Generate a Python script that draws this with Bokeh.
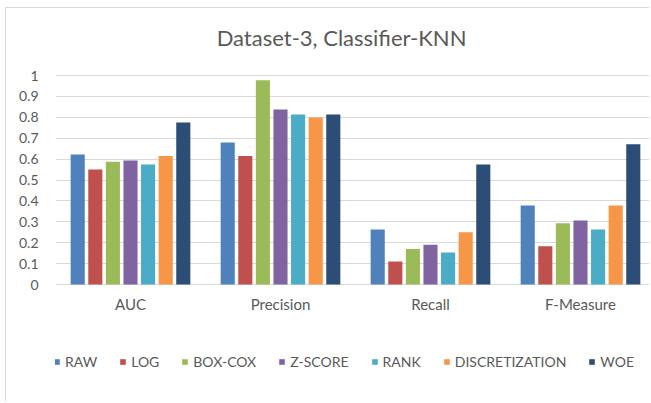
from bokeh.plotting import figure
from bokeh.models import Range1d, FixedTicker, Legend, LegendItem
from bokeh.core.properties import value
from bokeh.embed import file_html
from bokeh.resources import INLINE

title_text = "Dataset-3, Classifier-KNN"
categories = ["AUC", "Precision", "Recall", "F-Measure"]
series_names = ["RAW", "LOG", "BOX-COX", "Z-SCORE", "RANK", "DISCRETIZATION", "WOE"]

raw = [0.622, 0.679, 0.263, 0.378]
log_ = [0.550, 0.615, 0.110, 0.183]
box_cox = [0.587, 0.977, 0.170, 0.293]
z_score = [0.593, 0.837, 0.190, 0.306]
rank = [0.574, 0.813, 0.153, 0.263]
discretization = [0.615, 0.799, 0.250, 0.378]
woe = [0.775, 0.813, 0.574, 0.671]
series_values = [raw, log_, box_cox, z_score, rank, discretization, woe]

colors = ["#4F81BD", "#C0504D", "#9BBB59", "#8064A2", "#4BACC6", "#F79646", "#2C4D75"]

y_ticks = [0, 0.1, 0.2, 0.3, 0.4, 0.5, 0.6, 0.7, 0.8, 0.9, 1]
y_tick_labels = ["0", "0.1", "0.2", "0.3", "0.4", "0.5", "0.6", "0.7", "0.8", "0.9", "1"]

FONT = "Lato"
TXT = "#595959"
GRID = "#d9d9d9"

# figure placed at (6, 8); frame spans y=8..402 (394 px); value 1 at y=75, 0 at y=284 (209 px per unit)
y_top = 1 + 67 / 209
p = figure(width=644, height=394, output_backend="svg", toolbar_location=None,
           x_range=Range1d(0, 595 / 150), y_range=Range1d(y_top - 394 / 209, y_top),
           min_border_left=49, min_border_right=0, min_border_top=0, min_border_bottom=0)
p.outline_line_color = None
p.background_fill_color = "white"
p.border_fill_color = "white"
p.styles = {"margin-left": "5px", "margin-top": "7px",
            "border-left": "1px solid #d9d9d9", "border-top": "1px solid #d9d9d9"}

# chart title, placed above the value area
p.text(x=[1.907], y=[1.184], text=[title_text],
       text_font=value(FONT), text_font_size="22px", text_color=TXT,
       text_align="center", text_baseline="middle")

pitch = 0.1173
bar_w = 0.094
renderers = []
for j, (name, vals, col) in enumerate(zip(series_names, series_values, colors)):
    xs = [i + 0.5 + (j - 3) * pitch for i in range(len(categories))]
    r = p.vbar(x=xs, top=vals, bottom=0, width=bar_w, fill_color=col, line_color=None)
    renderers.append(r)

# category labels under the zero line
cat_ticks = [i + 0.5 for i in range(len(categories))]
p.text(x=cat_ticks, y=[-0.091] * len(categories), text=categories,
       text_font=value(FONT), text_font_size="15px", text_color=TXT,
       text_align="center", text_baseline="middle")
p.xaxis.visible = False

p.yaxis.ticker = FixedTicker(ticks=y_ticks)
p.yaxis.major_label_overrides = {t: l for t, l in zip(y_ticks, y_tick_labels)}
p.yaxis.major_tick_line_color = None
p.yaxis.minor_tick_line_color = None
p.yaxis.axis_line_color = None
p.yaxis.major_label_standoff = 11
p.yaxis.major_label_text_font = FONT
p.yaxis.major_label_text_font_size = "14px"
p.yaxis.major_label_text_color = TXT

p.xgrid.grid_line_color = None
p.ygrid.grid_line_color = GRID
p.ygrid.grid_line_width = 1

legend = Legend(items=[LegendItem(label=n, renderers=[r]) for n, r in zip(series_names, renderers)],
                orientation="horizontal", location=(-2, 32),
                glyph_width=7, glyph_height=7, label_standoff=5, spacing=22,
                padding=0, margin=0, border_line_color=None, background_fill_alpha=0,
                label_text_font=FONT, label_text_font_size="14px", label_text_color=TXT,
                label_height=14, label_width=10)
p.add_layout(legend)

open("out.html", "w").write(file_html(p, INLINE))
